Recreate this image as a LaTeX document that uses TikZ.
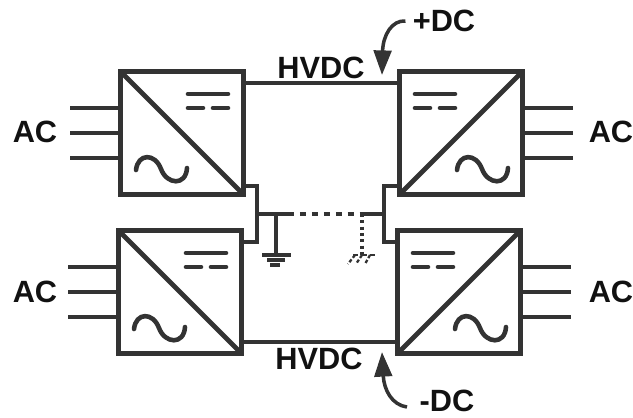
\documentclass[tikz,border=0pt]{standalone}
\usepackage{fontspec}
\setmainfont{Liberation Sans}
\usetikzlibrary{calc,arrows.meta}
\definecolor{linegray}{HTML}{333333}
\definecolor{textgray}{HTML}{111111}
\tikzset{
	conv/.style={draw=linegray, line width=2.8pt, minimum size=2.46cm, inner sep=0pt, outer sep=0pt},
	diag/.style={draw=linegray, line width=2.7pt, line cap=round},
	wire/.style={draw=linegray, line width=1.9pt},
	symline/.style={draw=linegray, line width=2.6pt, line cap=round},
	lbl/.style={font=\fontsize{17.5}{20}\selectfont\bfseries, text=textgray, inner sep=4pt},
	dcarrow/.style={draw=linegray, line width=2pt, -{Triangle[length=14pt,width=10pt]}},
}
\def\dcmark#1#2{
	\draw[symline] ($(#1)+(#2+6,-39)$) -- ($(#1)+(#2+46,-39)$);
	\draw[symline] ($(#1)+(#2+6,-25)$) -- ($(#1)+(#2+21,-25)$);
	\draw[symline] ($(#1)+(#2+31,-25)$) -- ($(#1)+(#2+46,-25)$);
}
\def\acwave#1#2{
	\draw[symline] ($(#1)+(#2-46,37)$) .. controls ($(#1)+(#2-44,20)$) and ($(#1)+(#2-27,20)$) .. ($(#1)+(#2-21,36)$) .. controls ($(#1)+(#2-15,52)$) and ($(#1)+(#2+4,53)$) .. ($(#1)+(#2+5,35)$);
}

\begin{document}
\begin{tikzpicture}[x=0.02cm, y=-0.02cm]
	%%%%% START %%%%%
	\useasboundingbox (0, 0) rectangle (633, 417);

	\node[conv] (convTL) at (182, 133) {};
	\node[conv] (convTR) at (461, 133) {};
	\node[conv] (convBL) at (180, 292) {};
	\node[conv] (convBR) at (459, 292) {};

	\draw[diag] (convTL.north west) -- (convTL.south east);
	\draw[diag] (convBL.north west) -- (convBL.south east);
	\draw[diag] (convTR.south west) -- (convTR.north east);
	\draw[diag] (convBR.south west) -- (convBR.north east);

	\dcmark{convTL}{0}
	\dcmark{convBL}{0}
	\dcmark{convTR}{-52}
	\dcmark{convBR}{-52}

	\acwave{convTL}{0}
	\acwave{convBL}{0}
	\acwave{convTR}{42}
	\acwave{convBR}{42}

	% ac side
	\foreach \dy in {-25, 0, 25} {
		\draw[wire] ($(convTL.west)+(0,\dy)$) -- ++(-51, 0);
		\draw[wire] ($(convBL.west)+(0,\dy)$) -- ++(-51, 0);
		\draw[wire] ($(convTR.east)+(0,\dy)$) -- ++(51, 0);
		\draw[wire] ($(convBR.east)+(0,\dy)$) -- ++(51, 0);
	}
	\node[lbl] (acTL) at (35, 132) {AC};
	\node[lbl] (acBL) at (35, 292) {AC};
	\node[lbl] (acTR) at (611, 132) {AC};
	\node[lbl] (acBR) at (611, 292) {AC};

	% hvdc lines
	\draw[wire] ($(convTL.east)+(0,-50)$) -- ($(convTR.west)+(0,-50)$);
	\draw[wire] ($(convBL.east)+(0,50)$) -- ($(convBR.west)+(0,50)$);
	\node[lbl] (hvdcTop) at (321, 68) {HVDC};
	\node[lbl] (hvdcBot) at (319, 359) {HVDC};

	% dc arrows
	\node[lbl] (plusDC) at (444, 21) {+DC};
	\node[lbl] (minusDC) at (447, 401) {-DC};
	\coordinate (tipTop) at (382, 75);
	\coordinate (tipBot) at (382, 352);
	\coordinate (tailBot) at (407, 407);
	\draw[dcarrow] (plusDC.west) .. controls (392, 20) and (383, 35) .. (tipTop);
	\draw[dcarrow] (tailBot) .. controls (392, 405) and (384, 390) .. (tipBot);

	% midpoint ties
	\coordinate (tieLa) at (257, 186);
	\coordinate (tieLb) at (257, 242);
	\coordinate (tieLm) at (257, 214);
	\coordinate (tieRa) at (384, 186);
	\coordinate (tieRb) at (384, 242);
	\coordinate (tieRm) at (384, 214);
	\draw[wire] (convTL.east |- tieLa) -- (tieLa) -- (tieLb) -- (convBL.east |- tieLb);
	\draw[wire] (convTR.west |- tieRa) -- (tieRa) -- (tieRb) -- (convBR.west |- tieRb);

	% solid ground
	\coordinate (gndA) at (276, 214);
	\coordinate (gndB) at (276, 255);
	\coordinate (splitL) at (288, 214);
	\coordinate (splitR) at (362, 214);
	\coordinate (gndC) at (362, 255);
	\draw[wire] (tieLm) -- (splitL);
	\draw[wire] (gndA) -- (gndB);
	\draw[wire] ($(gndB)+(-14,0)$) -- ($(gndB)+(15,0)$);
	\draw[wire] ($(gndB)+(-9,5)$) -- ($(gndB)+(9,5)$);
	\draw[wire] ($(gndB)+(-6,10)$) -- ($(gndB)+(4,10)$);

	% dashed ground
	\draw[wire, dash pattern=on 3.4pt off 3.4pt] (splitL) -- (splitR);
	\draw[wire] (splitR) -- (tieRm);
	\draw[wire, dash pattern=on 1.7pt off 1.9pt] (splitR) -- (gndC);
	\draw[wire, line width=1.3pt, dash pattern=on 3pt off 1.8pt] ($(gndC)+(-9,0)$) -- ($(gndC)+(14,0)$);
	\draw[wire, line width=1.3pt, dash pattern=on 2pt off 1.2pt] ($(gndC)+(-7,0)$) -- ($(gndC)+(-14,9)$);
	\draw[wire, line width=1.3pt, dash pattern=on 2pt off 1.2pt] ($(gndC)+(0,0)$) -- ($(gndC)+(-6,9)$);
	\draw[wire, line width=1.3pt, dash pattern=on 2pt off 1.2pt] ($(gndC)+(8,0)$) -- ($(gndC)+(3,9)$);
	%%%%% END %%%%%
\end{tikzpicture}
\end{document}
